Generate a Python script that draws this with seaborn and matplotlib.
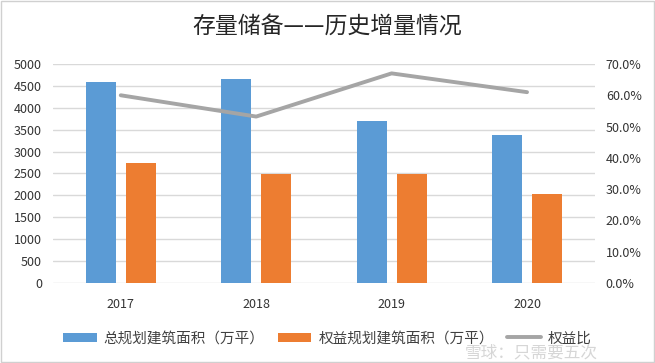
import matplotlib
matplotlib.use("Agg")
import matplotlib.pyplot as plt
import seaborn as sns
import pandas as pd
from matplotlib.ticker import PercentFormatter, MultipleLocator
from matplotlib.patches import Patch
from matplotlib.lines import Line2D

years = ["2017", "2018", "2019", "2020"]
total_area = [4600, 4660, 3700, 3380]
equity_area = [2750, 2480, 2480, 2040]
equity_ratio = [0.60, 0.532, 0.67, 0.61]
s_total = "总规划建筑面积（万平）"
s_equity = "权益规划建筑面积（万平）"
s_ratio = "权益比"
title = "存量储备——历史增量情况"

sns.set_theme(style="white")
plt.rcParams["font.family"] = ["Noto Sans CJK SC", "DejaVu Sans"]

blue = "#5B9BD5"
orange = "#ED7D31"
grey = "#A5A5A5"

df = pd.DataFrame({
    "year": years * 2,
    "value": total_area + equity_area,
    "series": [s_total] * 4 + [s_equity] * 4,
})
dfl = pd.DataFrame({"year": years, "ratio": equity_ratio})

fig = plt.figure(figsize=(6.55, 3.63), dpi=100)
ax = fig.add_axes([0.081, 0.2204, 0.827, 0.6033])

sns.barplot(data=df, x="year", y="value", hue="series", ax=ax,
            palette=[blue, orange], width=0.59, gap=0.25,
            saturation=1, legend=False, linewidth=0)
ax.set_xlim(-0.5, 3.5)
ax.set_ylim(0, 5000)
ax.yaxis.set_major_locator(MultipleLocator(500))
ax.grid(axis="y", color="#D9D9D9", linewidth=1)
ax.set_axisbelow(True)
for s in ax.spines.values():
    s.set_visible(False)
ax.set_xlabel("")
ax.set_ylabel("")
ax.tick_params(axis="both", length=0, labelsize=9, colors="#333333")
ax.tick_params(axis="x", pad=11)
ax.tick_params(axis="y", pad=8)

ax2 = ax.twinx()
sns.lineplot(data=dfl, x="year", y="ratio", ax=ax2, color=grey,
             linewidth=2.8, sort=False)
ax2.set_ylim(0, 0.70)
ax2.yaxis.set_major_locator(MultipleLocator(0.10))
ax2.yaxis.set_major_formatter(PercentFormatter(1.0, decimals=1))
for s in ax2.spines.values():
    s.set_visible(False)
ax2.set_ylabel("")
ax2.set_xlabel("")
ax2.tick_params(axis="y", length=0, labelsize=9, colors="#333333", pad=8)
ax2.grid(False)

fig.suptitle(title, y=0.96, fontsize=16.5, color="#262626")

handles = [Patch(facecolor=blue, edgecolor="none"),
           Patch(facecolor=orange, edgecolor="none"),
           Line2D([0], [0], color=grey, linewidth=2.8)]
fig.legend(handles, [s_total, s_equity, s_ratio], loc="center",
           bbox_to_anchor=(0.5, 0.068), ncol=3, frameon=False,
           fontsize=10.5, handlelength=2.3, handleheight=0.6,
           columnspacing=0.9, handletextpad=0.5,
           labelcolor="#404040")

fig.text(0.71, 0.028, "雪球：只需要五次", fontsize=12, color="#BBBBBB",
         alpha=0.6, ha="left", va="center")

border = plt.Rectangle((0.001, 0.002), 0.997, 0.995, transform=fig.transFigure,
                       fill=False, edgecolor="#D0D0D0", linewidth=1)
fig.add_artist(border)

fig.savefig("out.png", dpi=100)
